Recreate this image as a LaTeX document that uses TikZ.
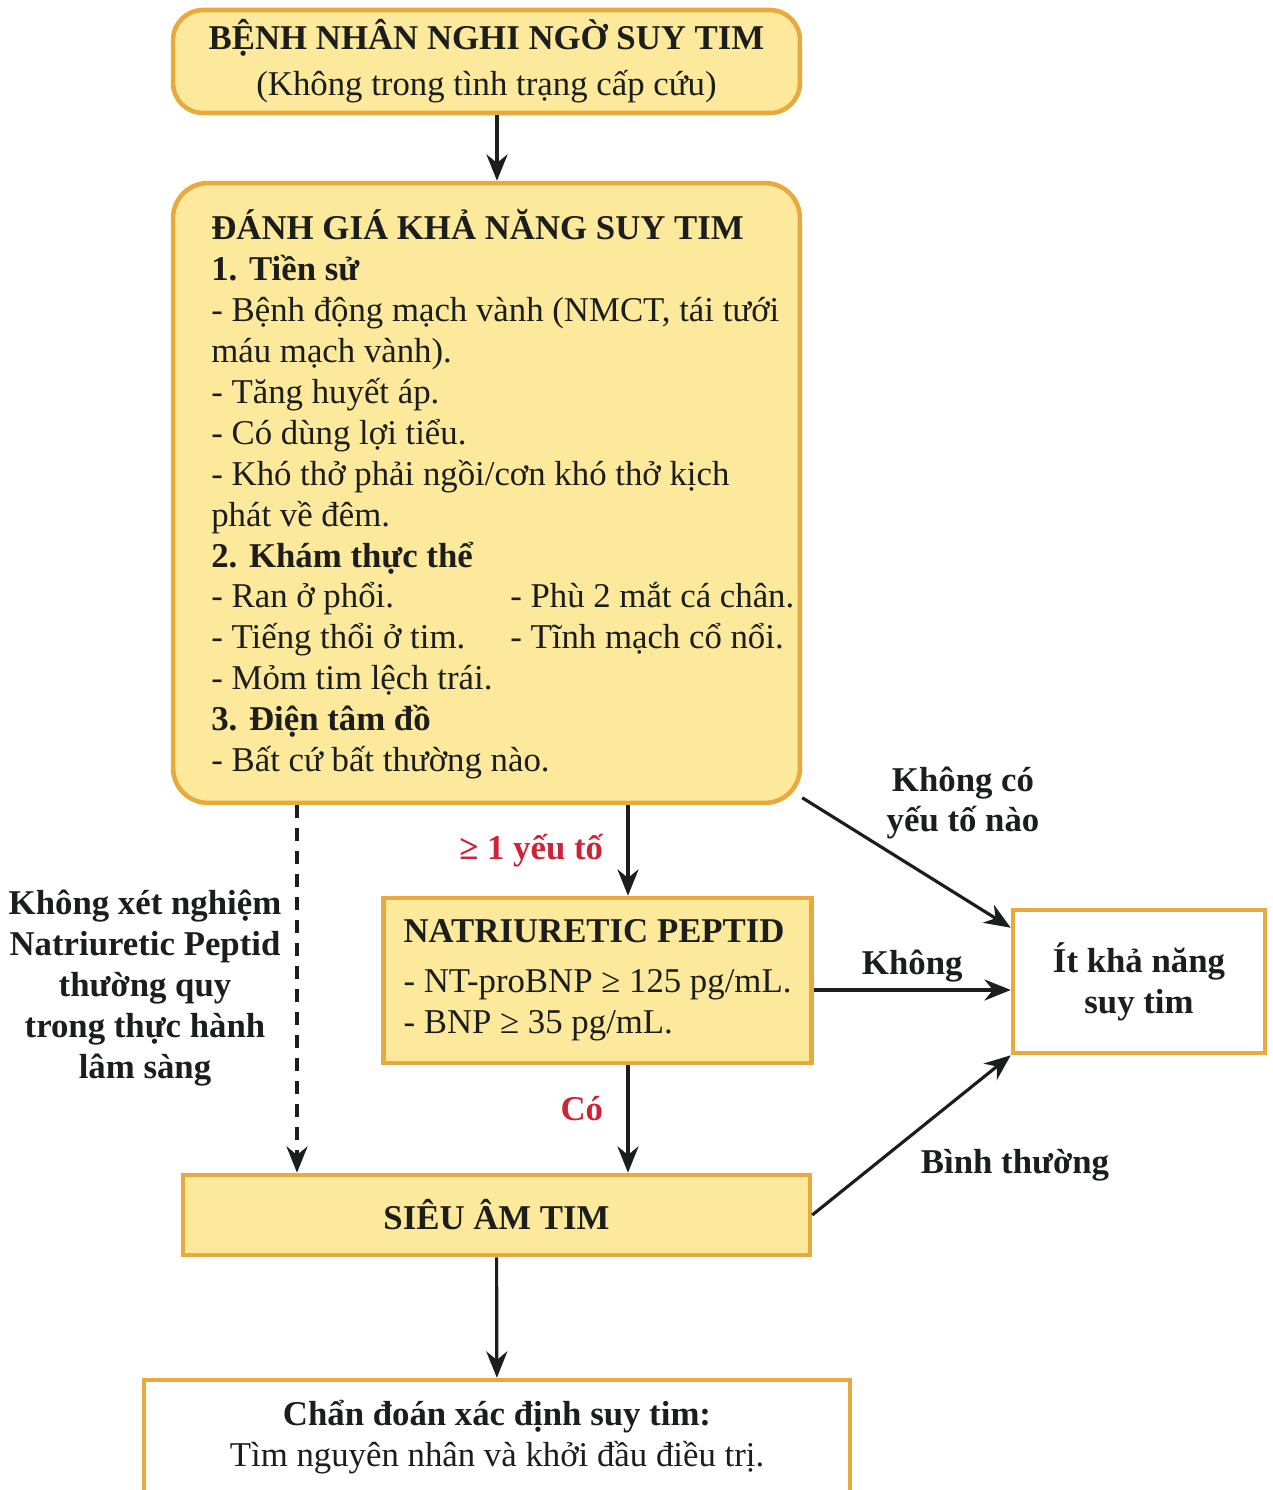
\documentclass[tikz,border=0pt]{standalone}
\usepackage{fontspec}
\setmainfont{Liberation Serif}
\usepackage{xcolor}
\usepackage{tikz}
\usetikzlibrary{arrows.meta}
\definecolor{hfyellow}{RGB}{252,233,155}
\definecolor{hforange}{RGB}{232,170,60}
\definecolor{hfred}{RGB}{205,35,55}
\definecolor{hfink}{RGB}{28,30,30}

\begin{document}
\begin{tikzpicture}[x=0.02cm, y=-0.02cm,
    every node/.style={font=\fontsize{19.8}{23.3}\selectfont, text=hfink},
    ybox/.style={draw=hforange, fill=hfyellow, line width=2.6pt},
    wbox/.style={draw=hforange, fill=white, line width=2.6pt},
    arr/.style={-{Stealth[length=15pt, width=12pt]}, line width=1.8pt, draw=hfink},
    lbl/.style={font=\fontsize{19.8}{23.3}\selectfont\bfseries, align=center}]
                \clip (0,0) rectangle (1273,1490);

                % Suspected patient
                \node[ybox, rounded corners=0.6cm, minimum width=12.54cm, minimum height=2.06cm, align=center] (susp) at (486.5,61.5) {\textbf{BỆNH NHÂN NGHI NGỜ SUY TIM}\\[3pt](Không trong tình trạng cấp cứu)};

                % Assessment box and its text
                \node[ybox, rounded corners=0.7cm, minimum width=12.54cm, minimum height=12.4cm] (assess) at (486.5,493) {};
                \node[anchor=north west, inner sep=0, align=left] (assesstxt) at (211,209) {\textbf{ĐÁNH GIÁ KHẢ NĂNG SUY TIM}\\
                    \textbf{1. Tiền sử}\\
                    - Bệnh động mạch vành (NMCT, tái tưới\\
                    máu mạch vành).\\
                    - Tăng huyết áp.\\
                    - Có dùng lợi tiểu.\\
                    - Khó thở phải ngồi/cơn khó thở kịch\\
                    phát về đêm.\\
                    \textbf{2. Khám thực thể}\\
                    \makebox[5.98cm][l]{- Ran ở phổi.}- Phù 2 mắt cá chân.\\
                    \makebox[5.98cm][l]{- Tiếng thổi ở tim.}- Tĩnh mạch cổ nổi.\\
                    - Mỏm tim lệch trái.\\
                    \textbf{3. Điện tâm đồ}\\
                    - Bất cứ bất thường nào.};

                % Natriuretic peptide test
                \node[ybox, minimum width=8.5cm, minimum height=3.3cm, align=left, inner xsep=0.4cm] (np) at (597.5,980.5) {\textbf{NATRIURETIC PEPTID}\\[0.18cm]- NT-proBNP ≥ 125 pg/mL.\\- BNP ≥ 35 pg/mL.};

                % Unlikely outcome
                \node[wbox, lbl, minimum width=5.04cm, minimum height=2.86cm] (unlikely) at (1139,981.5) {Ít khả năng\\suy tim};

                % Echocardiography
                \node[ybox, lbl, minimum width=12.54cm, minimum height=1.6cm] (echo) at (496.5,1215) {SIÊU ÂM TIM};

                % Diagnosis
                \node[wbox, minimum width=14.12cm, minimum height=2.28cm, align=center] (diag) at (497,1437) {\textbf{Chẩn đoán xác định suy tim:}\\Tìm nguyên nhân và khởi đầu điều trị.};

                % Free labels
                \node[lbl] (notest) at (145,988) {Không xét nghiệm\\Natriuretic Peptid\\thường quy\\trong thực hành\\lâm sàng};
                \node[lbl] (nofactor) at (963,803) {Không có\\yếu tố nào};
                \node[lbl] (normal) at (1015,1165) {Bình thường};

                % Columns of the vertical arrows
                \coordinate (topx) at (497,0);
                \coordinate (dashx) at (297,0);
                \coordinate (midx) at (628,0);

                % Arrows
                \draw[arr] (susp.south -| topx) -- (assess.north -| topx);
                \draw[arr, dash pattern=on 0.26cm off 0.2cm] (assess.south -| dashx) -- (echo.north -| dashx);
                \draw[arr] (assess.south -| midx) -- (np.north -| midx) node[midway, left, xshift=-0.35cm, lbl, text=hfred] {≥ 1 yếu tố};
                \draw[arr] (np.south -| midx) -- (echo.north -| midx) node[midway, left, xshift=-0.35cm, yshift=0.2cm, lbl, text=hfred] {Có};
                \draw[arr] ([yshift=-0.19cm]np.east) -- ([yshift=-0.19cm]np.east -| unlikely.west) node[midway, above, lbl] {Không};
                \draw[arr] ([yshift=0.15cm]assess.south east) -- ([yshift=-0.4cm]unlikely.north west);
                \draw[arr] (echo.east) -- (unlikely.south west);
                \draw[arr] (echo) -- (diag);
            \end{tikzpicture}
\end{document}
